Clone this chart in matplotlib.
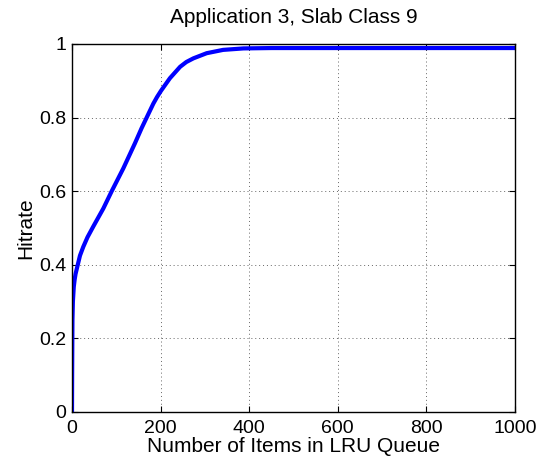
import matplotlib
matplotlib.use('Agg')
import matplotlib.pyplot as plt

plt.rcParams['font.family'] = ['Liberation Sans', 'DejaVu Sans']

# 곡선 데이터
items = [0, 0.3, 1, 2, 4, 6, 8, 12, 18, 25.5, 35, 48, 70.7, 89.6, 115.8, 142,
         157, 168.5, 183.6, 192, 201, 221, 244, 258, 274, 304, 341, 387, 450,
         1000]
hitrate = [0, 0.10, 0.25, 0.30, 0.34, 0.36, 0.375, 0.395, 0.425, 0.449,
           0.475, 0.504, 0.553, 0.60, 0.662, 0.73, 0.771, 0.80, 0.838, 0.856,
           0.873, 0.907, 0.938, 0.951, 0.961, 0.975, 0.984, 0.988, 0.989,
           0.989]
xticks = [0, 200, 400, 600, 800, 1000]
yticks = [0, 0.2, 0.4, 0.6, 0.8, 1]
ytick_labels = ['0', '0.2', '0.4', '0.6', '0.8', '1']

fig = plt.figure(figsize=(5.41, 4.59), dpi=100)
ax = fig.add_axes([72/541, 47/459, 443/541, 368/459])

ax.plot(items, hitrate, color='#0000ff', linewidth=3, solid_joinstyle='round')

ax.set_xlim(0, 1000)
ax.set_ylim(0, 1)
ax.set_xticks(xticks)
ax.set_yticks(yticks)
ax.set_yticklabels(ytick_labels)
ax.tick_params(direction='in', top=True, right=True, labelsize=14, length=4)
ax.tick_params(axis='x', pad=6)
ax.tick_params(axis='y', pad=4)
ax.grid(True, linestyle=(0, (1, 3)), color='#666666', linewidth=0.7)
for s in ax.spines.values():
    s.set_linewidth(1.0)

ax.set_title('Application 3, Slab Class 9', fontsize=15, pad=15)
ax.set_xlabel('Number of Items in LRU Queue', fontsize=15, labelpad=0)
ax.set_ylabel('Hitrate', fontsize=15, labelpad=3)

plt.savefig('out.png', dpi=100)
